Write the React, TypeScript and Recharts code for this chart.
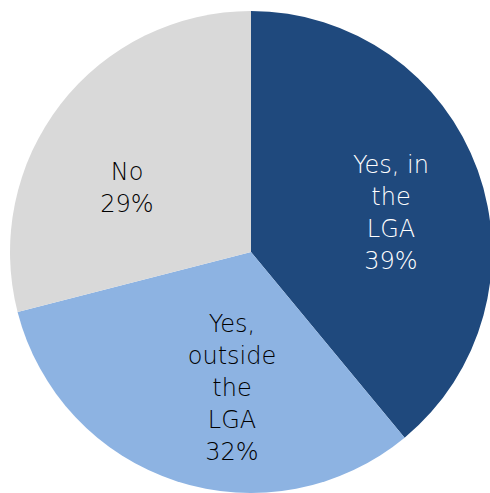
import { Cell, Pie, PieChart } from "recharts";

const categories = ["Yes, in the LGA", "Yes, outside the LGA", "No"];
const shares = [39, 32, 29];
const labelLines = [
  ["Yes, in", "the", "LGA"],
  ["Yes,", "outside", "the", "LGA"],
  ["No"]
];

const colors = ["#1F497D", "#8DB3E2", "#D9D9D9"];
const textColors = ["#ffffff", "#000000", "#000000"];
// label centre relative to the pie centre (Excel "best fit" placement)
const labelOffsets = [
  { dx: 140, dy: -39 },
  { dx: -19, dy: 136 },
  { dx: -124, dy: -64 }
];

const data = categories.map((name, i) => ({ name, value: shares[i] }));

const LINE_H = 32;

function SliceLabel(props: any) {
  const { cx, cy, index, value } = props;
  const lines = [...labelLines[index], `${value}%`];
  const x = cx + labelOffsets[index].dx;
  const yTop = cy + labelOffsets[index].dy - ((lines.length - 1) * LINE_H) / 2;
  return (
    <text
      x={x}
      y={yTop}
      textAnchor="middle"
      dominantBaseline="central"
      fill={textColors[index]}
      fontSize={24}
      fontWeight={200}
      fontFamily="'DejaVu Sans', sans-serif"
    >
      {lines.map((line, i) => (
        <tspan key={i} x={x} y={yTop + i * LINE_H}>
          {line}
        </tspan>
      ))}
    </text>
  );
}

export default function App() {
  return (
    <div style={{ position: "absolute", left: 0, top: 0, width: 490, height: 493, background: "#fff" }}>
      <PieChart width={490} height={493} margin={{ top: 0, right: 0, bottom: 0, left: 0 }}>
        <Pie
          data={data}
          dataKey="value"
          nameKey="name"
          cx={251}
          cy={252}
          outerRadius={241}
          startAngle={90}
          endAngle={-270}
          stroke="none"
          labelLine={false}
          label={SliceLabel}
          isAnimationActive={false}
        >
          {data.map((d, i) => (
            <Cell key={d.name} fill={colors[i]} />
          ))}
        </Pie>
      </PieChart>
    </div>
  );
}
